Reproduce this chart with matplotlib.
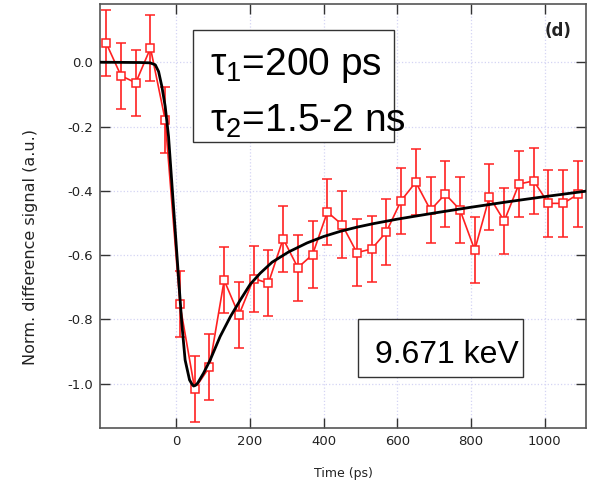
import matplotlib
matplotlib.use("Agg")
import matplotlib.pyplot as plt
from matplotlib.patches import Rectangle

# ---- data ----
time_ps = [-190, -150, -110, -70, -30, 10, 50, 90, 130, 170, 210, 250, 290, 330,
           370, 410, 450, 490, 530, 570, 610, 650, 690, 730, 770, 810, 850, 890,
           930, 970, 1010, 1050, 1090]
signal = [0.059, -0.042, -0.064, 0.044, -0.180, -0.753, -1.016, -0.948, -0.678,
          -0.786, -0.673, -0.687, -0.549, -0.639, -0.598, -0.466, -0.505, -0.592,
          -0.581, -0.528, -0.431, -0.373, -0.460, -0.410, -0.459, -0.584, -0.418,
          -0.494, -0.379, -0.369, -0.439, -0.439, -0.411]
signal_err = [0.103] * len(time_ps)

fit_time = [-207, -98, -71, -57, -48, -39, -30, -21, -12, -3, 6, 15, 24, 36, 42,
            47, 52, 58, 74, 92, 119, 147, 174, 201, 228, 260, 305, 355, 400, 445,
            490, 535, 600, 700, 800, 900, 1000, 1112]
fit_signal = [0.0, -0.001, -0.002, -0.008, -0.029, -0.076, -0.138, -0.231, -0.376,
              -0.522, -0.667, -0.812, -0.926, -0.988, -1.000, -1.007, -1.005, -0.998,
              -0.967, -0.926, -0.853, -0.791, -0.739, -0.690, -0.656, -0.622, -0.590,
              -0.562, -0.542, -0.526, -0.513, -0.502, -0.488, -0.469, -0.451, -0.434,
              -0.418, -0.401]

x_ticks = [0, 200, 400, 600, 800, 1000]
y_ticks = [-1.0, -0.8, -0.6, -0.4, -0.2, 0.0]

plt.rcParams['mathtext.fontset'] = 'custom'
plt.rcParams['mathtext.rm'] = 'Liberation Sans'

fig = plt.figure(figsize=(5.93, 4.84), dpi=100)
ax = fig.add_axes([100 / 593, 1 - 428 / 484, 486 / 593, 424 / 484])

red = '#ff2020'
ax.errorbar(time_ps, signal, yerr=signal_err, color=red, lw=1.2, elinewidth=1.2,
            capsize=3.6, capthick=1.2, marker='s', markersize=6,
            markerfacecolor='white', markeredgecolor=red, markeredgewidth=1.1,
            zorder=3)
ax.plot(fit_time, fit_signal, color='black', lw=2.0, zorder=4,
        solid_joinstyle='round')

ax.set_xlim(-207, 1112)
ax.set_ylim(-1.1375, 0.181)
ax.set_xticks(x_ticks)
ax.set_yticks(y_ticks)
ax.set_xticklabels([f"{v:d}" for v in x_ticks])
ax.set_yticklabels([f"{v:.1f}" for v in y_ticks])
ax.grid(True, color='#d4d4f4', linestyle=':', linewidth=0.9, zorder=0)
ax.tick_params(direction='in', length=7, width=1.0, top=True, right=True,
               labelsize=9.5, labelcolor='#222222', color='#333333', pad=5)
for s in ax.spines.values():
    s.set_color('#555555')
    s.set_linewidth(1.2)

ax.set_xlabel('Time (ps)', fontsize=9, color='#222222')
ax.set_ylabel('Norm. difference signal (a.u.)', fontsize=11.5, color='#222222')
ax.xaxis.set_label_coords(0.5, -0.091)
ax.yaxis.set_label_coords(-0.127, 0.427)

# tau box
ax.add_patch(Rectangle((0.192, 0.675), 0.605 - 0.192, 0.939 - 0.675,
                       transform=ax.transAxes, facecolor='white',
                       edgecolor='#333333', lw=1.0, zorder=5))
fam = ['Liberation Sans', 'DejaVu Sans']
ax.text(0.2263, 0.8325, r'τ$_\mathregular{1}$=200 ps', transform=ax.transAxes,
        fontsize=28, family=fam, va='baseline', ha='left', zorder=6)
ax.text(0.2263, 0.699, r'τ$_\mathregular{2}$=1.5-2 ns', transform=ax.transAxes,
        fontsize=28, family=fam, va='baseline', ha='left', zorder=6)

# energy box
ax.add_patch(Rectangle((0.5315, 0.121), 0.871 - 0.5315, 0.2564 - 0.121,
                       transform=ax.transAxes, facecolor='white',
                       edgecolor='#333333', lw=1.0, zorder=5))
ax.text(0.566, 0.1526, '9.671 keV', transform=ax.transAxes, fontsize=23,
        family=fam, va='baseline', ha='left', zorder=6)

ax.text(0.942, 0.936, '(d)', transform=ax.transAxes, fontsize=12,
        fontweight='bold', color='#222222', ha='center', va='center', zorder=6)

fig.savefig('out.png', dpi=100)
